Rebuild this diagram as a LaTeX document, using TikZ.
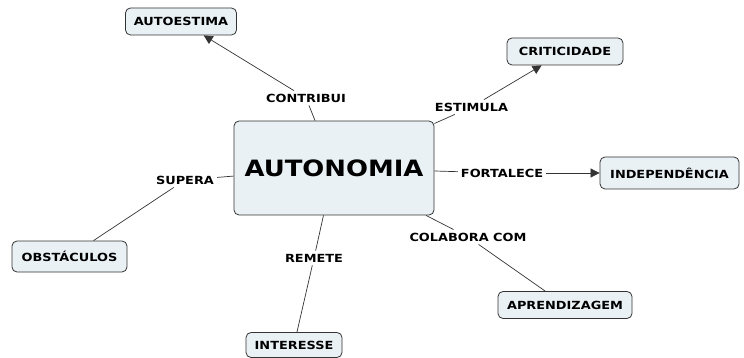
\documentclass[tikz,border=0pt]{standalone}
\usepackage{fontspec}
\setmainfont{DejaVu Sans}
\newfontfamily\cmfont[FakeStretch=1.15]{DejaVu Sans}
\usetikzlibrary{arrows.meta}
\tikzset{conceito/.style={draw=black!80,fill=cmfill,rounded corners=5pt,
           font=\cmfont\bfseries\fontsize{11.2}{13}\selectfont,inner xsep=3pt,
           minimum height=27pt,line width=0.8pt},
         frase/.style={font=\cmfont\bfseries\fontsize{11.2}{13}\selectfont,inner sep=3pt},
         liga/.style={draw=black!80,line width=0.7pt},
         seta/.style={liga,-{Triangle[length=9pt,width=9pt]}}}
\definecolor{cmfill}{HTML}{EAF1F5}

\begin{document}
\begin{tikzpicture}[x=1pt,y=-1pt]
\useasboundingbox (0,0) rectangle (744,358);
% conceito central
\node[conceito,minimum width=200pt,minimum height=94pt,
  font=\cmfont\bfseries\fontsize{22.5}{26}\selectfont] (autonomia) at (334,168) {AUTONOMIA};
% conceitos
\node[conceito,minimum width=111pt] (autoestima) at (181,21.5) {AUTOESTIMA};
\node[conceito,minimum width=116pt] (criticidade) at (565,51.5) {CRITICIDADE};
\node[conceito,minimum width=139pt,minimum height=32pt] (independencia) at (669.5,173) {INDEPENDÊNCIA};
\node[conceito,minimum width=115pt,minimum height=31pt] (obstaculos) at (69.5,256.5) {OBSTÁCULOS};
\node[conceito,minimum width=96pt,minimum height=25pt] (interesse) at (294,345) {INTERESSE};
\node[conceito,minimum width=134pt] (aprendizagem) at (565,305) {APRENDIZAGEM};
% frases de ligacao
\node[frase] (contribui) at (306,98) {CONTRIBUI};
\node[frase] (estimula) at (471.5,107) {ESTIMULA};
\node[frase] (fortalece) at (502,173) {FORTALECE};
\node[frase] (supera) at (185,180) {SUPERA};
\node[frase] (remete) at (314,258) {REMETE};
\node[frase] (colabora) at (468,237) {COLABORA COM};
% ligacoes
\draw[liga] (autonomia) -- (contribui);
\draw[seta] (contribui) -- (autoestima);
\draw[liga] (autonomia) -- (estimula);
\draw[seta] (estimula) -- (criticidade);
\draw[liga] (autonomia) -- (fortalece);
\draw[seta] (fortalece) -- (independencia);
\draw[liga] (autonomia) -- (supera);
\draw[liga] (supera) -- (obstaculos);
\draw[liga] (autonomia) -- (remete);
\draw[liga] (remete) -- (interesse);
\draw[liga] (autonomia) -- (colabora);
\draw[liga] (colabora) -- (aprendizagem);
\end{tikzpicture}
\end{document}
